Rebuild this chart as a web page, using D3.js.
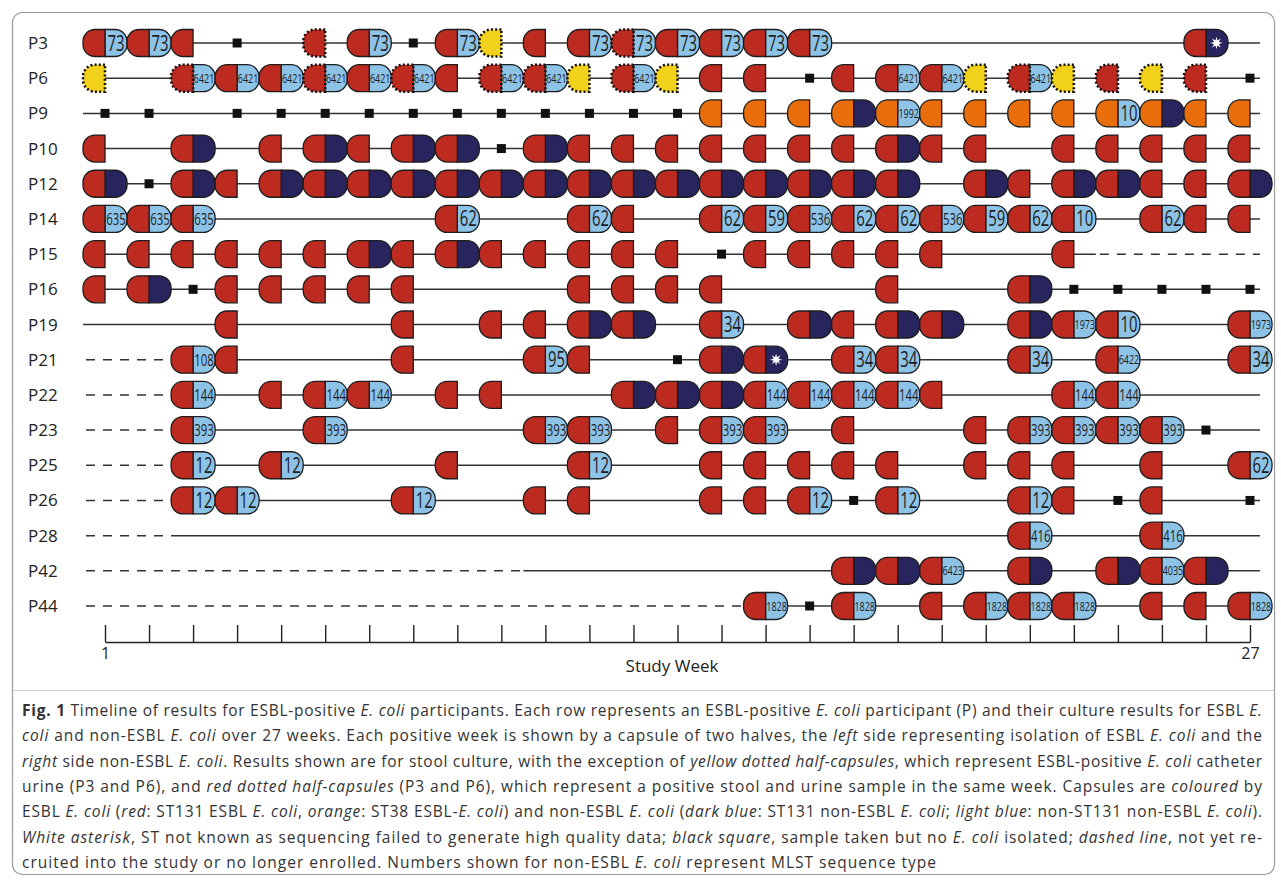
<!DOCTYPE html>
<html>
<head>
<meta charset="utf-8">
<script src="https://cdn.jsdelivr.net/npm/d3@7"></script>
<style>
  body { margin: 0; background: #fff; }
  svg text { font-family: "Open Sans", sans-serif; }
</style>
</head>
<body>
<div id="chart"></div>
<script>
// one entry per week (1..27)
// R red ESBL half, r red dotted (stool+urine), Y yellow dotted (urine), O orange ST38
// after "|": D dark blue, * dark blue with asterisk, number = light blue with ST
// "#" sample taken, no E. coli ; "." nothing
const participants = ["P3","P6","P9","P10","P12","P14","P15","P16","P19","P21","P22","P23","P25","P26","P28","P42","P44"];
const weeks = d3.range(1, 28);

const P3  = ["R|73","R|73","R","#",".","r","R|73","#","R|73","Y","R","R|73","r|73","R|73","R|73","R|73","R|73",".",".",".",".",".",".",".",".","R|*","."];
const P6  = ["Y",".","r|6421","R|6421","R|6421","r|6421","R|6421","r|6421","R","r|6421","r|6421","Y","r|6421","Y","R","R","#","R","R|6421","R|6421","Y","r|6421","Y","r","Y","r","#"];
const P9  = ["#","#",".","#","#","#","#","#","#","#","#","#","#","#","O","O","O","O|D","O|1992","O","O","O","O","O|10","O|D","O","O"];
const P10 = ["R",".","R|D",".","R","R|D","R","R|D","R|D","#","R|D","R","R","R","R","R","R","R","R|D","R","R",".","R","R","R","R","R"];
const P12 = ["R|D","#","R|D","R","R|D","R|D","R|D","R|D","R|D","R|D","R|D","R|D","R|D","R|D","R|D","R|D","R|D","R|D","R|D",".","R|D","R","R|D","R|D","R","R","R|D"];
const P14 = ["R|635","R|635","R|635",".",".",".",".",".","R|62",".",".","R|62","R",".","R|62","R|59","R|536","R|62","R|62","R|536","R|59","R|62","R|10",".","R|62","R","R"];
const P15 = ["R","R","R","R","R","R","R|D","R","R|D","R","R","R","R","R","#","R","R","R","R","R",".",".","R",".",".",".","."];
const P16 = ["R","R|D","#","R","R","R","R","R",".",".",".","R","R","R","R",".",".",".","R",".",".","R|D","#","#","#","#","#"];
const P19 = [".",".",".","R",".",".",".","R",".","R","R","R|D","R|D",".","R|34",".","R|D","R","R|D","R|D",".","R|D","R|1973","R|10",".",".","R|1973"];
const P21 = [".",".","R|108","R",".",".",".","R",".",".","R|95","R",".","#","R|D","R|*",".","R|34","R|34",".",".","R|34",".","R|6422",".",".","R|34"];
const P22 = [".",".","R|144",".","R","R|144","R|144",".","R","R",".",".","R|D","R|D","R|D","R|144","R|144","R|144","R|144","R",".",".","R|144","R|144",".",".","."];
const P23 = [".",".","R|393",".",".","R|393",".",".",".",".","R|393","R|393",".","R","R|393","R|393",".","R",".",".","R","R|393","R|393","R|393","R|393","#","."];
const P25 = [".",".","R|12",".","R|12",".",".",".","R",".",".","R|12",".",".","R","R","R","R","R",".","R","R","R",".","R",".","R|62"];
const P26 = [".",".","R|12","R|12",".",".",".","R|12",".",".","R","R",".",".","R","R","R|12","#","R|12",".",".","R|12","R","#","R",".","#"];
const P28 = [".",".",".",".",".",".",".",".",".",".",".",".",".",".",".",".",".",".",".",".",".","R|416",".",".","R|416",".","."];
const P42 = [".",".",".",".",".",".",".",".",".",".",".",".",".",".",".",".",".","R|D","R|D","R|6423",".","R|D",".","R|D","R|4035","R|D","."];
const P44 = [".",".",".",".",".",".",".",".",".",".",".",".",".",".",".","R|1828","#","R|1828",".","R","R|1828","R|1828","R|1828",".","R","R","R|1828"];
const rowResults = [P3,P6,P9,P10,P12,P14,P15,P16,P19,P21,P22,P23,P25,P26,P28,P42,P44];

// first / last enrolled week (dashed line outside)
const enrolStart = [1,1,1,1,1,1,1,1,1,3,3,3,3,3,3,11,16];
const enrolEnd   = [27,27,27,27,27,27,23,27,27,27,27,27,27,27,27,27,27];

const caption = [
  [["Fig. 1","b"],[" Timeline of results for ESBL-positive "],["E. coli","i"],[" participants. Each row represents an ESBL-positive "],["E. coli","i"],[" participant (P) and their culture results for ESBL "],["E.","i"]],
  [["coli","i"],[" and non-ESBL "],["E. coli","i"],[" over 27 weeks. Each positive week is shown by a capsule of two halves, the "],["left","i"],[" side representing isolation of ESBL "],["E. coli","i"],[" and the"]],
  [["right","i"],[" side non-ESBL "],["E. coli","i"],[". Results shown are for stool culture, with the exception of "],["yellow dotted half-capsules","i"],[", which represent ESBL-positive "],["E. coli","i"],[" catheter"]],
  [["urine (P3 and P6), and "],["red dotted half-capsules","i"],[" (P3 and P6), which represent a positive stool and urine sample in the same week. Capsules are "],["coloured","i"],[" by"]],
  [["ESBL "],["E. coli","i"],[" ("],["red","i"],[": ST131 ESBL "],["E. coli","i"],[", "],["orange","i"],[": ST38 ESBL-"],["E. coli","i"],[") and non-ESBL "],["E. coli","i"],[" ("],["dark blue","i"],[": ST131 non-ESBL "],["E. coli","i"],["; "],["light blue","i"],[": non-ST131 non-ESBL "],["E. coli","i"],[")."]],
  [["White asterisk","i"],[", ST not known as sequencing failed to generate high quality data; "],["black square","i"],[", sample taken but no "],["E. coli","i"],[" isolated; "],["dashed line","i"],[", not yet re-"]],
  [["cruited into the study or no longer enrolled. Numbers shown for non-ESBL "],["E. coli","i"],[" represent MLST sequence type"]]
];

const W = 1281, H = 881;
const colors = { R: "#bd2a20", r: "#bd2a20", Y: "#f2d11b", O: "#e96d0b", D: "#28255e", L: "#8dc3e7" };

const svg = d3.select("#chart").append("svg")
  .attr("width", W).attr("height", H);

// frame and caption separator
svg.append("rect")
  .attr("x", 12.5).attr("y", 12.5).attr("width", 1262).attr("height", 862)
  .attr("rx", 10).attr("fill", "none").attr("stroke", "#9a9a9a").attr("stroke-width", 1.2);
svg.append("line")
  .attr("x1", 13).attr("x2", 1274).attr("y1", 690.5).attr("y2", 690.5)
  .attr("stroke", "#cfcfcf");

const x = d3.scaleLinear().domain([1, 27]).range([105, 1250]);
const y = d3.scalePoint().domain(participants).range([43, 606]);

const half = 22, hh = 13.5, rr = 12;
const leftHalf = `M0,${-hh}H${-half + rr}A${rr},${rr} 0 0 0 ${-half},${-hh + rr}V${hh - rr}A${rr},${rr} 0 0 0 ${-half + rr},${hh}H0Z`;
const rightHalf = `M0,${-hh}H${half - rr}A${rr},${rr} 0 0 1 ${half},${-hh + rr}V${hh - rr}A${rr},${rr} 0 0 1 ${half - rr},${hh}H0Z`;

const starPath = d3.lineRadial().curve(d3.curveLinearClosed)
  .angle((d, i) => i * Math.PI / 8)
  .radius((d, i) => i % 2 ? 2.6 : 6.2)(d3.range(16));

// row labels
svg.append("g").selectAll("text").data(participants).join("text")
  .attr("x", 28).attr("y", d => y(d) + 6)
  .attr("font-size", 17).attr("fill", "#222")
  .text(d => d);

// timeline lines
const lines = svg.append("g");
participants.forEach((p, i) => {
  const yy = y(p);
  const s0 = x(enrolStart[i]) - half;
  const s1 = enrolEnd[i] === 27 ? x(27) + 10 : x(enrolEnd[i]) + half;
  lines.append("line").attr("x1", s0).attr("x2", s1).attr("y1", yy).attr("y2", yy)
    .attr("stroke", "#333").attr("stroke-width", 1.5);
  if (enrolStart[i] > 1) {
    lines.append("line").attr("x1", 86).attr("x2", s0).attr("y1", yy).attr("y2", yy)
      .attr("stroke", "#333").attr("stroke-width", 1.5).attr("stroke-dasharray", "9 8");
  }
  if (enrolEnd[i] < 27) {
    lines.append("line").attr("x1", s1 + 4).attr("x2", x(27) + 10).attr("y1", yy).attr("y2", yy)
      .attr("stroke", "#333").attr("stroke-width", 1.5).attr("stroke-dasharray", "9 8");
  }
});

// marks
const marks = [];
participants.forEach((p, i) => {
  rowResults[i].forEach((code, j) => {
    if (code !== ".") marks.push({ p, week: weeks[j], code });
  });
});

const mg = svg.append("g").selectAll("g").data(marks).join("g")
  .attr("transform", d => `translate(${x(d.week)},${y(d.p)})`);

mg.each(function(d) {
  const g = d3.select(this);
  if (d.code === "#") {
    g.append("rect").attr("x", -4.5).attr("y", -4.5).attr("width", 9).attr("height", 9).attr("fill", "#111");
    return;
  }
  const [left, right] = d.code.split("|");
  const dotted = left === "r" || left === "Y";
  if (right) {
    const isNum = right !== "D" && right !== "*";
    g.append("path").attr("d", rightHalf)
      .attr("fill", isNum ? colors.L : colors.D)
      .attr("stroke", "#1d1d1d").attr("stroke-width", 1.3);
    if (right === "*") {
      g.append("path").attr("d", starPath).attr("transform", `translate(${half / 2 - 0.5},0)`)
        .attr("fill", "#fff");
    } else if (isNum) {
      const n = right.length;
      g.append("text")
        .attr("x", half / 2).attr("y", n === 2 ? 7.5 : n === 3 ? 6 : 4.5)
        .attr("text-anchor", "middle")
        .attr("font-size", n === 2 ? 22 : n === 3 ? 17 : 12.5)
        .attr("textLength", n === 2 ? 17 : n === 3 ? 19.5 : 20.5)
        .attr("lengthAdjust", "spacingAndGlyphs")
        .attr("fill", "#1d1d1d")
        .text(right);
    }
  }
  g.append("path").attr("d", leftHalf)
    .attr("fill", colors[left])
    .attr("stroke", dotted ? "none" : "#1d1d1d").attr("stroke-width", 1.3);
  if (dotted) {
    g.append("path").attr("d", leftHalf)
      .attr("fill", "none").attr("stroke", "#111")
      .attr("stroke-width", 2.6).attr("stroke-dasharray", "2 2.2");
  }
});

// axis
const axis = d3.axisBottom(x).tickValues(weeks)
  .tickSize(-17).tickSizeOuter(0).tickPadding(6)
  .tickFormat(d => (d === 1 || d === 27) ? d : "");
const ax = svg.append("g").attr("transform", "translate(0,642)").call(axis);
ax.select(".domain").attr("stroke", "#222").attr("stroke-width", 1.4);
ax.selectAll(".tick line").attr("stroke", "#222").attr("stroke-width", 1.4);
ax.selectAll(".tick text").attr("font-size", 16).attr("fill", "#222")
  .attr("font-family", "'Open Sans', sans-serif");

svg.append("text").attr("x", 672).attr("y", 672).attr("text-anchor", "middle")
  .attr("font-size", 17).attr("fill", "#222").text("Study Week");

// caption
const capLines = svg.append("g").selectAll("text").data(caption).join("text")
  .attr("x", 22).attr("y", (d, i) => 716 + i * 25.3)
  .attr("font-size", 15.5).attr("fill", "#333")
  .attr("textLength", (d, i) => i < 6 ? 1240 : 914)
  .attr("lengthAdjust", "spacing");
capLines.selectAll("tspan").data(d => d).join("tspan")
  .attr("font-weight", d => d[1] === "b" ? "bold" : null)
  .attr("font-style", d => d[1] === "i" ? "italic" : null)
  .text(d => d[0]);
</script>
</body>
</html>
